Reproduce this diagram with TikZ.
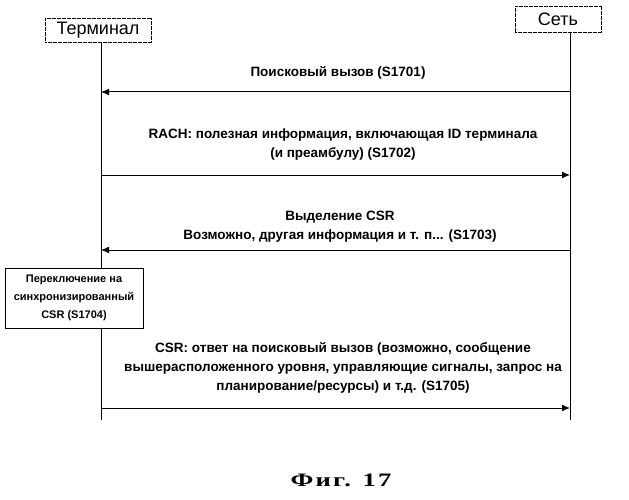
\documentclass[tikz,border=0pt]{standalone}
\usepackage{fontspec}
\setmainfont{Liberation Sans}
\newfontfamily\serifb[LetterSpace=8]{Liberation Serif}
\usetikzlibrary{arrows.meta}
\begin{document}
\begin{tikzpicture}[x=1pt,y=-1pt,
  actor/.style={draw,line width=0.8pt,dashed,dash pattern=on 2pt off 0.5pt,inner sep=0pt,font=\fontsize{18}{20}\selectfont},
  lbl/.style={font=\bfseries\fontsize{13.5}{19}\selectfont,align=center},
  msg/.style={line width=1pt,-{Latex[length=8pt,width=7pt]}},
  life/.style={line width=0.6pt}]
\useasboundingbox (0,0) rectangle (629,500);
\node[actor,minimum width=106,minimum height=24] (T) at (98,30) {Терминал};
\node[actor,minimum width=86,minimum height=26] (N) at (558,19) {Сеть};
\coordinate (tl) at (101,42);
\coordinate (nl) at (570,32);
\node[draw,line width=0.6pt,minimum width=138,minimum height=60,align=center,font=\bfseries\fontsize{11}{18}\selectfont,inner sep=1pt] (B) at (74,298) {Переключение на\\синхронизированный\\CSR (S1704)};
\coordinate (tend) at (101,420);
\coordinate (nend) at (570,420);
\draw[life] (101,42) -- (101,268);
\draw[life] (101,328) -- (tend);
\draw[life] (nl) -- (nend);
\coordinate (a1s) at (570,92); \coordinate (a1e) at (101,92);
\draw[msg] (a1s) -- (a1e);
\node[lbl] (l1) at (338,73) {Поисковый вызов (S1701)};
\coordinate (a2s) at (101,175); \coordinate (a2e) at (570,175);
\draw[msg] (a2s) -- (a2e);
\node[lbl] (l2) at (343,145) {RACH: полезная информация, включающая ID терминала\\(и преамбулу) (S1702)};
\coordinate (a3s) at (570,250); \coordinate (a3e) at (101,250);
\draw[msg] (a3s) -- (a3e);
\node[lbl] (l3) at (340,227) {Выделение CSR\\Возможно, другая информация и т. п... (S1703)};
\coordinate (a4s) at (101,408); \coordinate (a4e) at (570,408);
\draw[msg] (a4s) -- (a4e);
\node[lbl] (l4) at (343,368) {CSR: ответ на поисковый вызов (возможно, сообщение\\вышерасположенного уровня, управляющие сигналы, запрос на\\планирование/ресурсы) и т.д. (S1705)};
\node[font=\serifb\bfseries\fontsize{19}{21}\selectfont,xscale=1.4] (cap) at (341,480) {Фиг. 17};
\end{tikzpicture}
\end{document}
